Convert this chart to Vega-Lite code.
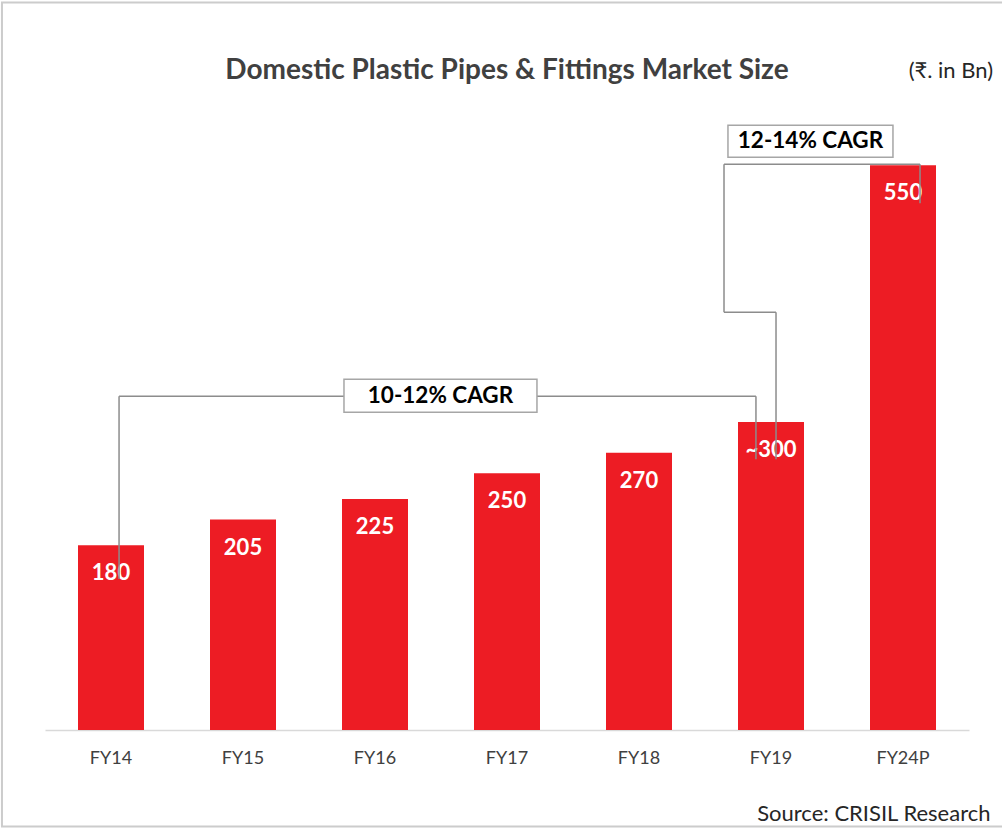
{
  "$schema": "https://vega.github.io/schema/vega-lite/v6.json",
  "width": 924,
  "height": 616,
  "autosize": {"type": "none"},
  "padding": {"left": 45, "top": 114, "right": 33, "bottom": 99},
  "background": "white",
  "config": {"view": {"stroke": null}, "font": "Lato"},
  "datasets": {
    "bars": [
      {"year": "FY14", "value": 180, "label": "180"},
      {"year": "FY15", "value": 205, "label": "205"},
      {"year": "FY16", "value": 225, "label": "225"},
      {"year": "FY17", "value": 250, "label": "250"},
      {"year": "FY18", "value": 270, "label": "270"},
      {"year": "FY19", "value": 300, "label": "~300"},
      {"year": "FY24P", "value": 550, "label": "550"}
    ],
    "segs": [
      {"x1": 0.561, "x2": 0.561, "y1": 147, "y2": 325.1},
      {"x1": 0.561, "x2": 5.386, "y1": 325.1, "y2": 325.1},
      {"x1": 5.386, "x2": 5.386, "y1": 325.1, "y2": 263.8},
      {"x1": 5.538, "x2": 5.538, "y1": 263.8, "y2": 406.9},
      {"x1": 5.144, "x2": 5.538, "y1": 406.9, "y2": 406.9},
      {"x1": 5.144, "x2": 5.144, "y1": 406.9, "y2": 551},
      {"x1": 5.144, "x2": 6.629, "y1": 551, "y2": 551},
      {"x1": 6.629, "x2": 6.629, "y1": 551, "y2": 513}
    ],
    "boxes": [
      {"x1": 2.265, "x2": 3.727, "y1": 309.6, "y2": 341.7, "text": "10-12% CAGR", "xc": 2.996, "yc": 325.6},
      {"x1": 5.174, "x2": 6.424, "y1": 557.8, "y2": 589.0, "text": "12-14% CAGR", "xc": 5.799, "yc": 573.4}
    ],
    "notes": [
      {"x": 7.182, "y": 641.5, "text": "(₹. in Bn)"}
    ],
    "titles": [
      {"x": 3.5, "y": 633.7, "text": "Domestic Plastic Pipes & Fittings Market Size"}
    ],
    "frame": [
      {"x1": -0.326, "x2": 7.31, "y1": -93.9, "y2": 708.7}
    ]
  },
  "layer": [
    {
      "data": {"name": "frame"},
      "mark": {"type": "rect", "fill": null, "fillOpacity": 0, "stroke": "#cccccc", "strokeWidth": 2, "clip": false},
      "encoding": {
        "x": {"field": "x1", "type": "quantitative", "scale": {"domain": [0, 7], "nice": false, "zero": false}, "axis": null},
        "x2": {"field": "x2"},
        "y": {"field": "y1", "type": "quantitative", "scale": {"domain": [0, 600], "nice": false, "zero": false}, "axis": null},
        "y2": {"field": "y2"}
      }
    },
    {
      "data": {"name": "bars"},
      "mark": {"type": "bar", "color": "#ED1C24", "clip": false},
      "encoding": {
        "x": {
          "field": "year", "type": "nominal", "sort": null,
          "scale": {"paddingInner": 0.5, "paddingOuter": 0.25},
          "axis": {
            "title": "Source: CRISIL Research",
            "labelAngle": 0,
            "ticks": false,
            "tickSize": 0,
            "labelPadding": 28,
            "labelBaseline": "middle",
            "labelFontSize": 18,
            "labelFont": "Lato",
            "labelColor": "#404040",
            "domainColor": "#d9d9d9",
            "domainWidth": 1.5,
            "titleX": 945,
            "titleY": 83,
            "titleAlign": "right",
            "titleBaseline": "middle",
            "titleFontSize": 22,
            "titleFont": "Lato",
            "titleFontWeight": "normal",
            "titleColor": "#262626"
          }
        },
        "y": {
          "field": "value", "type": "quantitative",
          "scale": {"domain": [0, 600], "nice": false, "zero": false},
          "axis": null
        }
      }
    },
    {
      "data": {"name": "bars"},
      "mark": {"type": "text", "baseline": "middle", "align": "center", "dy": 28, "color": "white", "font": "Lato", "fontWeight": "bold", "fontSize": 22, "clip": false},
      "encoding": {
        "x": {"field": "year", "type": "nominal", "sort": null, "scale": {"paddingInner": 0.5, "paddingOuter": 0.25}, "axis": null},
        "y": {"field": "value", "type": "quantitative", "scale": {"domain": [0, 600], "nice": false, "zero": false}, "axis": null},
        "text": {"field": "label"}
      }
    },
    {
      "data": {"name": "segs"},
      "mark": {"type": "rule", "color": "#8c8c8c", "strokeWidth": 1.5, "clip": false},
      "encoding": {
        "x": {"field": "x1", "type": "quantitative", "scale": {"domain": [0, 7], "nice": false, "zero": false}, "axis": null},
        "x2": {"field": "x2"},
        "y": {"field": "y1", "type": "quantitative", "scale": {"domain": [0, 600], "nice": false, "zero": false}, "axis": null},
        "y2": {"field": "y2"}
      }
    },
    {
      "data": {"name": "boxes"},
      "mark": {"type": "rect", "fill": "white", "stroke": "#a6a6a6", "strokeWidth": 1.5, "clip": false},
      "encoding": {
        "x": {"field": "x1", "type": "quantitative", "scale": {"domain": [0, 7], "nice": false, "zero": false}, "axis": null},
        "x2": {"field": "x2"},
        "y": {"field": "y1", "type": "quantitative", "scale": {"domain": [0, 600], "nice": false, "zero": false}, "axis": null},
        "y2": {"field": "y2"}
      }
    },
    {
      "data": {"name": "boxes"},
      "mark": {"type": "text", "baseline": "middle", "align": "center", "color": "black", "font": "Lato", "fontWeight": "bold", "fontSize": 22.5, "clip": false},
      "encoding": {
        "x": {"field": "xc", "type": "quantitative", "scale": {"domain": [0, 7], "nice": false, "zero": false}, "axis": null},
        "y": {"field": "yc", "type": "quantitative", "scale": {"domain": [0, 600], "nice": false, "zero": false}, "axis": null},
        "text": {"field": "text"}
      }
    },
    {
      "data": {"name": "notes"},
      "mark": {"type": "text", "baseline": "middle", "align": "right", "color": "#262626", "font": "Lato", "fontSize": 22, "clip": false},
      "encoding": {
        "x": {"field": "x", "type": "quantitative", "scale": {"domain": [0, 7], "nice": false, "zero": false}, "axis": null},
        "y": {"field": "y", "type": "quantitative", "scale": {"domain": [0, 600], "nice": false, "zero": false}, "axis": null},
        "text": {"field": "text"}
      }
    },
    {
      "data": {"name": "titles"},
      "mark": {"type": "text", "baseline": "alphabetic", "align": "center", "color": "#404040", "font": "Lato", "fontWeight": "bold", "fontSize": 28, "clip": false},
      "encoding": {
        "x": {"field": "x", "type": "quantitative", "scale": {"domain": [0, 7], "nice": false, "zero": false}, "axis": null},
        "y": {"field": "y", "type": "quantitative", "scale": {"domain": [0, 600], "nice": false, "zero": false}, "axis": null},
        "text": {"field": "text"}
      }
    }
  ],
  "resolve": {"scale": {"x": "independent"}, "axis": {"x": "independent"}}
}
